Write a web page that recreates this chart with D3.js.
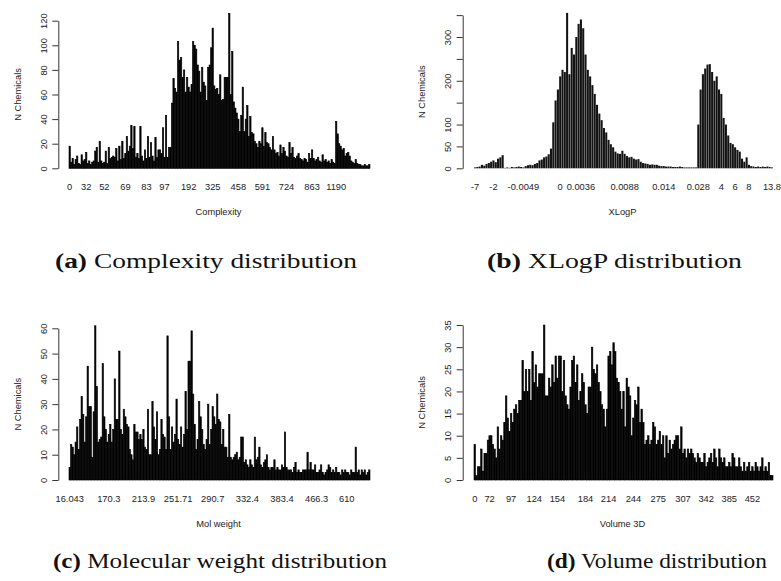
<!DOCTYPE html>
<html><head><meta charset="utf-8">
<script src="https://cdn.jsdelivr.net/npm/d3@7"></script>
<style>body{margin:0;background:#fff}svg{display:block}</style>
</head><body>
<svg id="chart" width="781" height="581"></svg>
<script>
// ---------------- data ----------------
const complexityCounts = [
 18,5,8,3,7,10,4,3,11,6, 7,13,4,6,3,5,6,14,17,5, 22,6,4,5,14,4,17,8,9,10, 9,16,6,18,7,22,8,12,26,14,
 18,35,16,34,9,12,8,34,10,6, 15,8,26,9,21,10,6,25,9,15, 15,12,33,9,43,9,17,17,53,73, 65,62,103,88,90,74,80,62,74,66,
 62,68,103,100,97,84,79,62,82,70, 67,55,82,84,98,114,67,64,65,60, 76,55,56,74,74,74,126,60,95,54, 49,45,40,30,43,66,30,40,51,26,
 42,29,28,22,20,17,22,20,33,18, 29,21,20,17,15,26,15,12,13,10, 19,12,17,14,10,9,21,12,17,9, 8,10,12,8,7,6,8,7,5,12,
 8,15,8,6,7,9,6,5,11,6, 7,5,6,4,7,5,4,38,28,20, 18,15,16,10,12,13,10,6,5,4, 7,4,3,3,2,2,3,2,2,3];
const complexityTickLabels = ["0","32","52","69","83","97","192","325","458","591","724","863","1190"];
const complexityTickBars   = [0,11,23,37,51,63,79,95,112,128,144,161,177];

const xlogpCounts = [
 2,3,4,8,6,10,12,15,18,14, 22,25,30,1,2,1,3,2,3,4, 3,2,5,7,8,7,10,12,18,20, 25,27,32,45,105,155,180,210,225,220,
 355,215,275,260,300,330,340,320,260,225, 210,190,170,145,125,110,92,82,65,55, 48,38,34,33,40,33,28,25,26,22,
 20,21,15,12,11,10,8,9,8,8, 6,5,5,4,4,4,3,3,3,4, 3,2,2,2,2,2,2,100,180,215,
 228,237,238,220,200,210,180,170,115,100, 75,58,55,48,42,38,22,15,25,8, 5,4,3,4,3,4,3,4,3,2];
const xlogpTickLabels = ["-7","-2","-0.0049","0","0.0036","0.0088","0.014","0.028","4","6","8","13.8"];
const xlogpTickBars   = [0,8,21,37,46,65,82,97,107,113,119,129];

const molweightCounts = [
 5,14,13,10,15,21,12,24,33,26, 15,25,45,29,29,9,27,61,37,15, 16,17,46,25,20,15,18,22,15,20, 40,24,24,51,20,18,28,25,22,21,
 12,10,8,22,19,19,16,18,16,20, 13,12,28,10,10,31,21,16,27,10, 12,24,18,17,12,57,25,12,21,15, 18,32,16,14,21,13,18,35,20,47,
 47,59,34,22,12,16,31,25,20,14, 12,16,30,14,20,29,25,22,34,24, 23,14,20,13,13,9,26,9,8,9, 10,11,8,9,17,17,7,8,6,5,
 8,6,5,17,8,9,13,6,5,7, 8,10,5,4,5,5,8,4,5,4, 4,6,5,19,5,4,4,4,3,5, 7,3,4,3,3,4,4,4,11,4,
 7,4,4,6,3,3,4,6,3,2, 3,4,6,5,3,4,3,5,3,3, 2,4,3,4,3,3,2,4,3,3, 13,3,4,2,4,3,4,2,3,4];
const molweightTickLabels = ["16.043","170.3","213.9","251.71","290.7","332.4","383.4","466.3","610"];
const molweightTickBars   = [0,26,49,72,95,118,141,164,184];

const volumeCounts = [
 8,1,3,3,7,2,6,6,9,10, 10,8,7,5,12,7,10,9,13,19, 14,11,15,13,16,17,15,18,18,27, 20,25,20,25,18,29,22,26,21,24,
 24,24,35,19,19,23,21,26,22,28, 23,28,28,20,27,19,17,16,21,27, 28,22,26,18,20,24,22,17,15,21, 21,30,25,24,26,22,20,17,16,12,
 16,28,29,26,31,29,23,22,20,16, 20,12,23,21,19,10,14,18,17,21, 13,16,13,8,9,10,8,9,13,12, 8,9,11,8,10,5,10,6,9,7,
 8,9,10,10,7,12,6,7,5,7, 6,7,6,5,4,6,5,4,4,6, 3,4,5,6,4,7,5,3,7,5, 4,5,3,3,4,3,6,5,3,3,
 5,3,2,4,2,3,4,2,3,2, 4,3,2,3,5,2,3,2,4,1, 1];
const volumeTickLabels = ["0","72","97","124","154","184","214","244","275","307","342","385","452"];
const volumeTickBars   = [0,9,22,36,50,67,81,96,111,126,140,154,168];

const yTicksComplexity = [0,20,40,60,80,100,120];
const yTicksXlogp = [0,50,100,150,200,250,300,350];
const yLabelsXlogp = [0,50,100,200,300];
const yTicksMolweight = [0,10,20,30,40,50,60];
const yTicksVolume = [0,5,10,15,20,25,30,35];

const xTitles = ["Complexity","XLogP","Mol weight","Volume 3D"];
const yTitle = "N Chemicals";
const captionTags = ["(a)","(b)","(c)","(d)"];
const captionTexts = ["Complexity distribution","XLogP distribution","Molecular weight distribution","Volume distribution"];

// ---------------- layout ----------------
const panels = [
 {counts: complexityCounts, tl: complexityTickLabels, tb: complexityTickBars, yt: yTicksComplexity, yl: yTicksComplexity,
  xr:[69,370], y0:168.3, yTopVal:120, yTopPx:20.7, ax:58.3, title:xTitles[0], pad:0.1, fill:"#000", sw:0.6,
  cap:{cx:206, by:268, w:302}},
 {counts: xlogpCounts, tl: xlogpTickLabels, tb: xlogpTickBars, yt: yTicksXlogp, yl: yLabelsXlogp,
  xr:[474,773], y0:168.3, yTopVal:300, yTopPx:37, ax:462.7, title:xTitles[1], pad:0.1, fill:"#141414", sw:0,
  cap:{cx:614.5, by:268, w:255}},
 {counts: molweightCounts, tl: molweightTickLabels, tb: molweightTickBars, yt: yTicksMolweight, yl: yTicksMolweight,
  xr:[69,370], y0:480, yTopVal:60, yTopPx:328.3, ax:58.3, title:xTitles[2], pad:0.1, fill:"#000", sw:0.6,
  cap:{cx:220, by:568, w:334}},
 {counts: volumeCounts, tl: volumeTickLabels, tb: volumeTickBars, yt: yTicksVolume, yl: yTicksVolume,
  xr:[474,773], y0:480, yTopVal:35, yTopPx:325, ax:462.7, title:xTitles[3], pad:0.1, fill:"#000", sw:0.6,
  cap:{cx:657, by:568, w:220}}
];

const svg = d3.select("#chart");
const FONT = "'Liberation Sans', Arial, Helvetica, sans-serif";
const FS = 9.3;

panels.forEach((p, pi) => {
  const g = svg.append("g");
  const x = d3.scaleBand().domain(d3.range(p.counts.length)).range(p.xr).paddingInner(p.pad).paddingOuter(0);
  const y = d3.scaleLinear().domain([0, p.yTopVal]).range([p.y0, p.yTopPx]);

  // bars
  g.append("g").selectAll("rect").data(p.counts).join("rect")
    .attr("x", (d,i) => x(i))
    .attr("width", x.bandwidth())
    .attr("y", d => y(d))
    .attr("height", d => y(0) - y(d))
    .attr("fill", p.fill)
    .attr("stroke", p.sw > 0 ? "#000" : "none")
    .attr("stroke-width", p.sw);

  // y axis
  const yMax = d3.max(p.yt);
  const ys = d3.scaleLinear().domain([0, yMax]).range([y(0), y(yMax)]);
  const ya = g.append("g").attr("transform", `translate(${p.ax},0)`)
    .call(d3.axisLeft(ys).tickValues(p.yt).tickSize(6).tickSizeOuter(0)
      .tickFormat(v => p.yl.includes(v) ? String(v) : ""));
  ya.select(".domain").attr("stroke", "#000").attr("stroke-width", 0.8);
  ya.selectAll(".tick line").attr("stroke", "#000").attr("stroke-width", 0.8);
  ya.selectAll(".tick text")
    .attr("transform", "rotate(-90)")
    .attr("x", 0).attr("y", -15).attr("dy", "0.35em")
    .attr("text-anchor", "middle")
    .attr("font-family", FONT).attr("font-size", FS).attr("fill", "#222");

  // x labels (names under bars, no axis line)
  const xa = g.append("g").attr("transform", `translate(0,${p.y0 + 15})`)
    .call(d3.axisBottom(x).tickValues(p.tb).tickSize(0)
      .tickFormat((v) => p.tl[p.tb.indexOf(v)]));
  xa.select(".domain").remove();
  xa.selectAll(".tick text").attr("y", 0).attr("dy", "0.71em")
    .attr("font-family", FONT).attr("font-size", FS).attr("fill", "#222");

  // axis titles
  const cx = (p.xr[0] + p.xr[1]) / 2;
  g.append("text").attr("x", cx - 1).attr("y", p.y0 + 46.5)
    .attr("text-anchor", "middle").attr("font-family", FONT).attr("font-size", FS).attr("fill", "#222")
    .text(p.title);
  const ymid = (y(0) + ys(yMax)) / 2;
  g.append("text").attr("transform", `translate(${p.ax - 41},${ymid}) rotate(-90)`)
    .attr("text-anchor", "middle").attr("dy", "0.35em")
    .attr("font-family", FONT).attr("font-size", FS).attr("fill", "#222")
    .text(yTitle);

  // caption
  const cap = svg.append("text").attr("x", p.cap.cx).attr("y", p.cap.by)
    .attr("text-anchor", "middle")
    .attr("font-family", "'Liberation Serif','Times New Roman',serif").attr("font-size", 20).attr("fill", "#111")
    .attr("textLength", p.cap.w).attr("lengthAdjust", "spacingAndGlyphs");
  cap.append("tspan").attr("font-weight", "bold").text(captionTags[pi]);
  cap.append("tspan").text(" " + captionTexts[pi]);
});
</script>
</body></html>
